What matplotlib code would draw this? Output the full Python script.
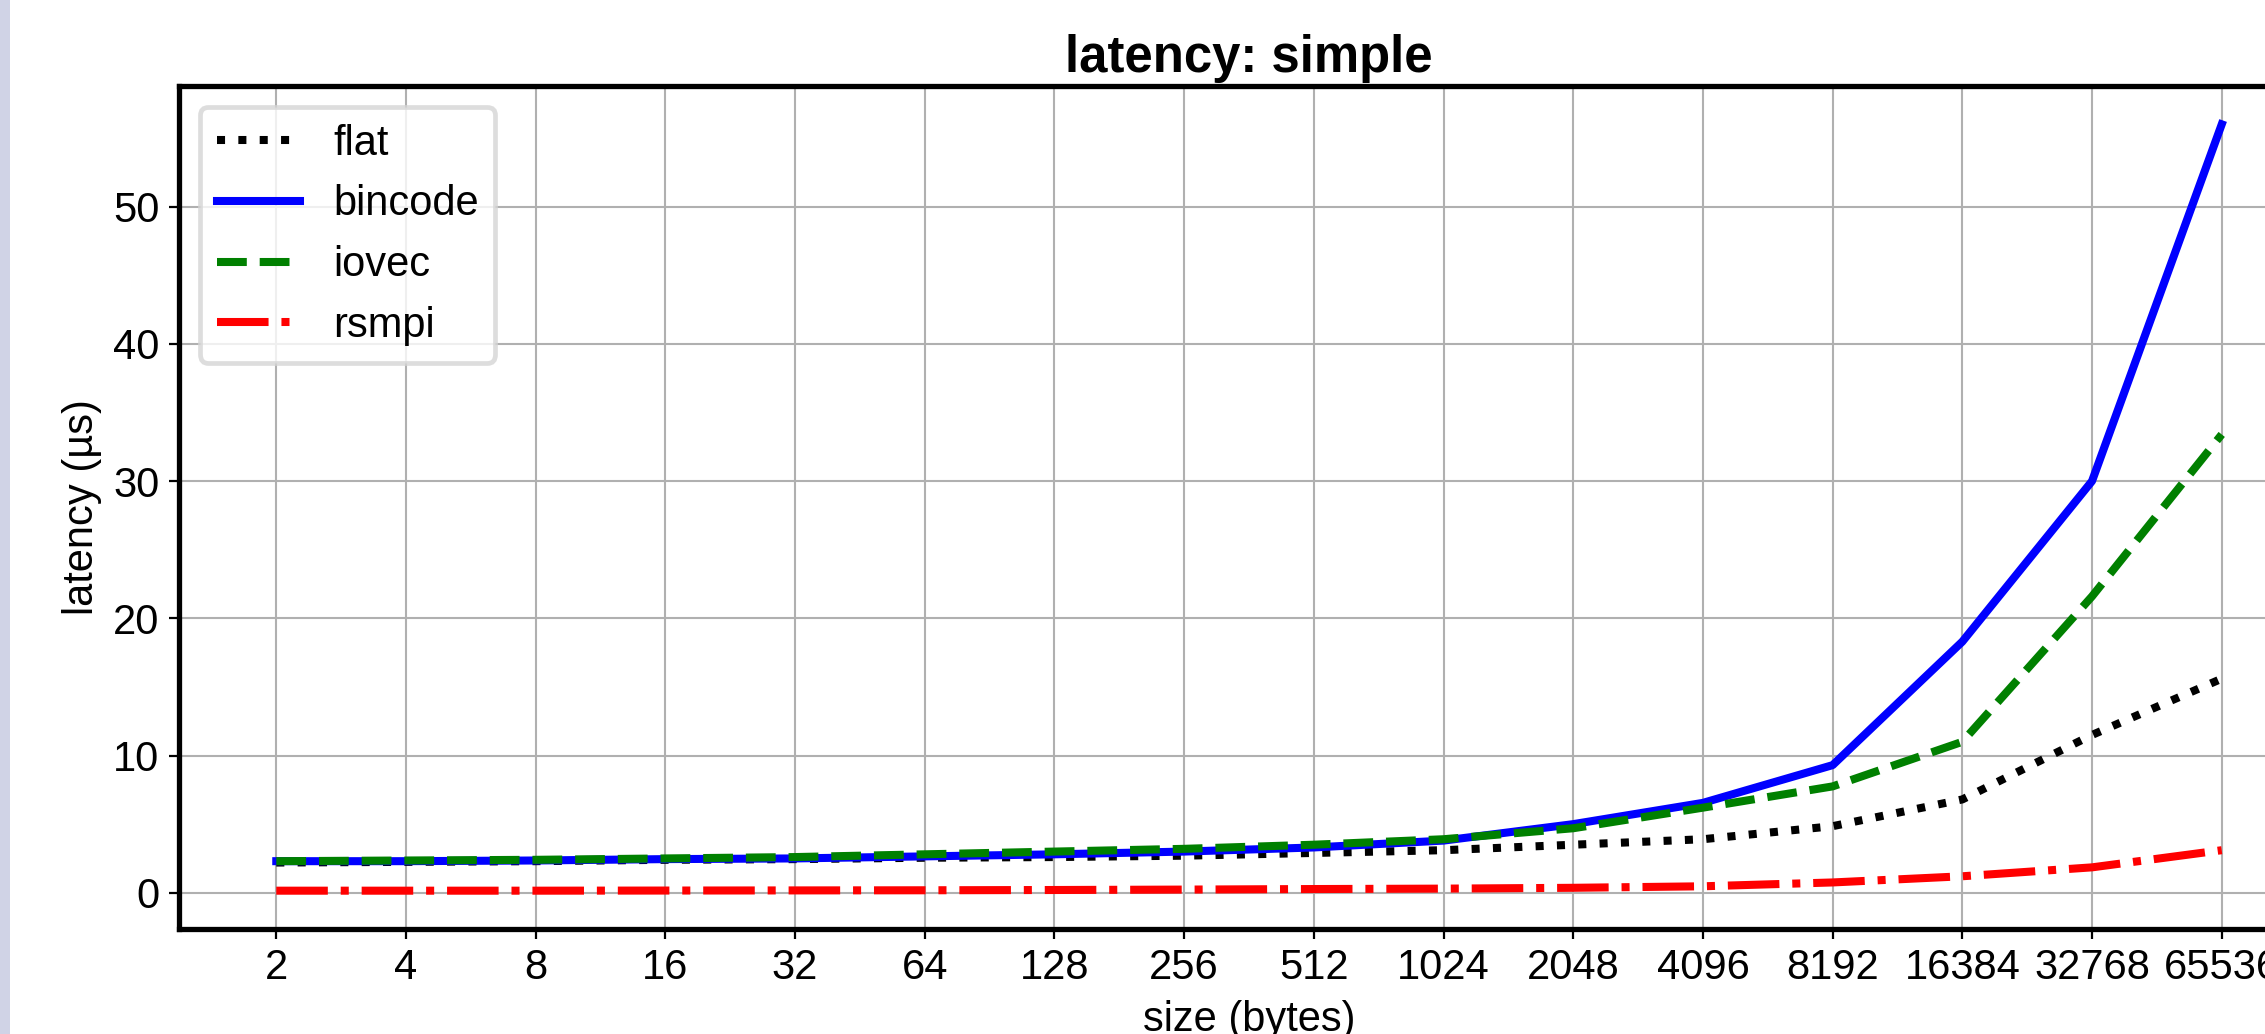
"""
Latency plot for the simple message benchmark.
"""

import matplotlib

matplotlib.use("Agg")
import matplotlib.pyplot as plt
from matplotlib.patches import Rectangle


# ── data ──────────────────────────────────────────────────────────────────────

SIZES = [2, 4, 8, 16, 32, 64, 128, 256, 512, 1024, 2048, 4096, 8192, 16384, 32768, 65536]

FLAT = [2.2, 2.25, 2.3, 2.4, 2.45, 2.55, 2.6, 2.7, 2.9, 3.1, 3.5, 3.9, 4.85, 6.8, 11.5, 15.6]
BINCODE = [2.3, 2.3, 2.35, 2.45, 2.5, 2.65, 2.8, 3.0, 3.3, 3.8, 5.0, 6.55, 9.3, 18.3, 30.0, 56.0]
IOVEC = [2.3, 2.35, 2.4, 2.5, 2.6, 2.8, 3.0, 3.2, 3.5, 3.9, 4.7, 6.2, 7.75, 11.0, 21.6, 33.4]
RSMPI = [0.15, 0.15, 0.15, 0.16, 0.17, 0.18, 0.2, 0.23, 0.27, 0.3, 0.36, 0.47, 0.75, 1.2, 1.85, 3.1]

SERIES = [
    ("flat", FLAT, "k", ":"),
    ("bincode", BINCODE, "b", "-"),
    ("iovec", IOVEC, "g", "--"),
    ("rsmpi", RSMPI, "r", "-."),
]

DPI = 200
W_PX, H_PX = 2265, 1034

plt.rcParams["font.family"] = ["Liberation Sans", "DejaVu Sans"]
plt.rcParams["font.size"] = 15
plt.rcParams["axes.linewidth"] = 1.9
plt.rcParams["lines.linewidth"] = 2.9


def plot_latency() -> None:
    fig = plt.figure(figsize=(W_PX / DPI, H_PX / DPI), dpi=DPI)
    # the screenshot keeps a sliver of the window border on the left
    fig.patches.append(
        Rectangle((0, 0), 10 / W_PX, 1, transform=fig.transFigure,
                  facecolor="#d0d3e6", edgecolor="none", zorder=-1)
    )

    # axes runs off the right edge, like the cropped original
    ax = fig.add_axes([179 / W_PX, 1 - 929 / H_PX, 2140 / W_PX, 843 / H_PX])

    for name, values, color, style in SERIES:
        ax.plot(SIZES, values, color=color, linestyle=style, label=name)

    ax.set_xscale("log", base=2)
    ax.set_xticks(SIZES)
    ax.set_xticklabels([str(s) for s in SIZES])
    ax.minorticks_off()
    ax.set_yticks([0, 10, 20, 30, 40, 50])

    ax.grid(True, color="#b0b0b0", linewidth=0.75)
    ax.set_axisbelow(True)

    ax.set_title("latency: simple", fontsize=18.3, fontweight="bold", pad=5)
    ax.set_xlabel("size (bytes)")
    ax.set_ylabel("latency (µs)")

    leg = ax.legend(loc="upper left", fontsize=15)
    leg.get_frame().set_linewidth(1.7)
    leg.get_frame().set_edgecolor("#d5d5d5")

    fig.savefig("out.png", dpi=DPI)
    plt.close(fig)


plot_latency()
